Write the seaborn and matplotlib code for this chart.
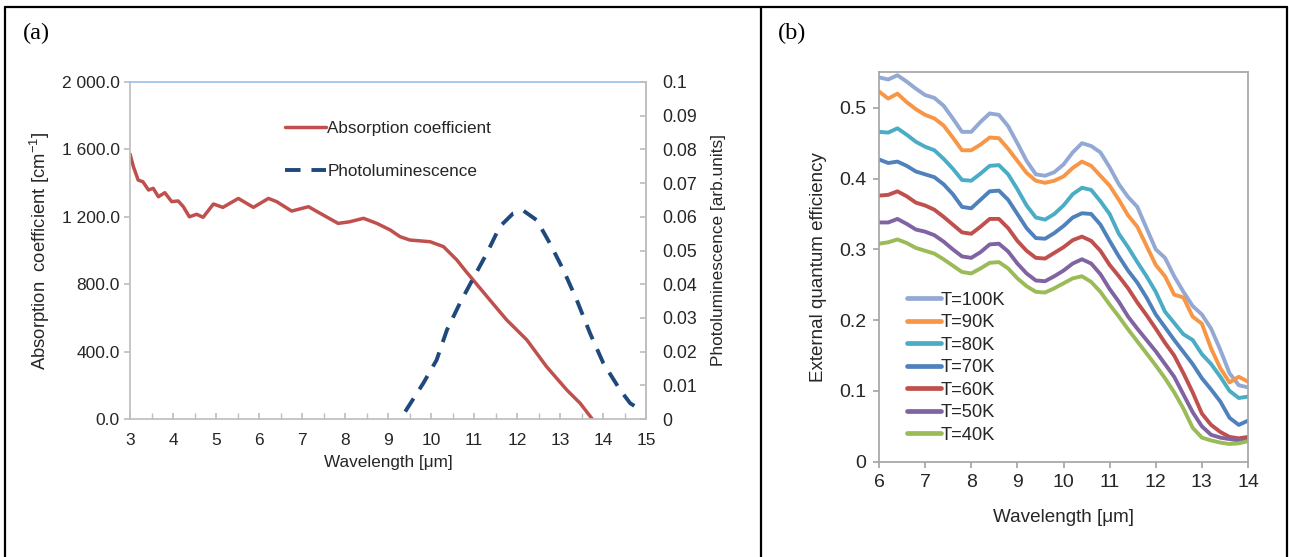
import matplotlib
matplotlib.use("Agg")
import matplotlib.pyplot as plt
from matplotlib.lines import Line2D
import numpy as np
import pandas as pd
import seaborn as sns

# ---------------- data (a) ----------------
abs_wl = [3.0, 3.08, 3.19, 3.3, 3.43, 3.54, 3.66, 3.81, 3.97, 4.12, 4.24, 4.38, 4.55, 4.7,
          4.94, 5.16, 5.52, 5.87, 6.22, 6.41, 6.76, 7.15, 7.42, 7.84, 8.1, 8.43, 8.74,
          9.05, 9.28, 9.51, 9.8, 9.98, 10.29, 10.6, 10.8, 10.98, 11.37, 11.76, 12.23,
          12.69, 13.16, 13.47, 13.75]
abs_coef = [1573, 1497, 1418, 1408, 1359, 1369, 1319, 1343, 1290, 1294, 1260, 1200, 1215, 1197,
            1276, 1256, 1309, 1256, 1309, 1290, 1234, 1260, 1221, 1161, 1170, 1191, 1161,
            1122, 1082, 1062, 1056, 1052, 1023, 944, 880, 825, 706, 588, 469,
            310, 172, 93, 0]

pl_wl = [9.40, 9.82, 10.13, 10.37, 10.67, 10.98, 11.30, 11.60, 11.91, 12.15, 12.46, 12.77,
         13.08, 13.39, 13.70, 14.01, 14.40, 14.63, 14.90]
pl_val = [0.0022, 0.0106, 0.0175, 0.0264, 0.0343, 0.0417, 0.0492, 0.0571, 0.0610, 0.0618,
          0.0590, 0.0520, 0.0442, 0.0353, 0.0254, 0.0165, 0.0086, 0.0047, 0.0025]

abs_yticks = [0, 400, 800, 1200, 1600, 2000]
abs_yticklabels = ["0.0", "400.0", "800.0", "1 200.0", "1 600.0", "2 000.0"]
pl_yticks = [0, 0.01, 0.02, 0.03, 0.04, 0.05, 0.06, 0.07, 0.08, 0.09, 0.1]
pl_yticklabels = ["0", "0.01", "0.02", "0.03", "0.04", "0.05", "0.06", "0.07", "0.08", "0.09", "0.1"]

# ---------------- data (b) ----------------
eqe_wl = [6.0, 6.2, 6.4, 6.6, 6.8, 7.0, 7.2, 7.4, 7.6, 7.8, 8.0, 8.2, 8.4, 8.6, 8.8, 9.0,
          9.2, 9.4, 9.6, 9.8, 10.0, 10.2, 10.4, 10.6, 10.8, 11.0, 11.2, 11.4, 11.6, 11.8,
          12.0, 12.2, 12.4, 12.6, 12.8, 13.0, 13.2, 13.4, 13.6, 13.8, 14.0]
eqe_100K = [0.543, 0.540, 0.546, 0.537, 0.527, 0.518, 0.514, 0.503, 0.485, 0.466, 0.466, 0.480,
            0.492, 0.490, 0.474, 0.450, 0.425, 0.406, 0.404, 0.409, 0.420, 0.437, 0.450, 0.446,
            0.437, 0.416, 0.392, 0.374, 0.360, 0.330, 0.300, 0.288, 0.262, 0.240, 0.220, 0.208,
            0.188, 0.158, 0.125, 0.108, 0.105]
eqe_90K = [0.523, 0.513, 0.520, 0.508, 0.498, 0.490, 0.485, 0.475, 0.458, 0.440, 0.440, 0.448,
           0.458, 0.457, 0.442, 0.425, 0.408, 0.397, 0.394, 0.397, 0.403, 0.415, 0.424, 0.418,
           0.404, 0.390, 0.370, 0.348, 0.332, 0.305, 0.278, 0.262, 0.236, 0.232, 0.205, 0.195,
           0.160, 0.132, 0.112, 0.120, 0.113]
eqe_80K = [0.466, 0.465, 0.471, 0.462, 0.452, 0.445, 0.440, 0.428, 0.414, 0.398, 0.397, 0.407,
           0.418, 0.419, 0.406, 0.385, 0.362, 0.345, 0.342, 0.350, 0.362, 0.378, 0.387, 0.384,
           0.368, 0.350, 0.322, 0.303, 0.282, 0.262, 0.240, 0.212, 0.196, 0.180, 0.172, 0.152,
           0.138, 0.120, 0.100, 0.090, 0.092]
eqe_70K = [0.427, 0.422, 0.424, 0.418, 0.410, 0.406, 0.402, 0.392, 0.378, 0.360, 0.358, 0.370,
           0.382, 0.383, 0.370, 0.350, 0.330, 0.316, 0.315, 0.323, 0.333, 0.345, 0.351, 0.350,
           0.335, 0.312, 0.290, 0.270, 0.253, 0.232, 0.208, 0.190, 0.172, 0.155, 0.138, 0.118,
           0.102, 0.085, 0.062, 0.052, 0.058]
eqe_60K = [0.376, 0.377, 0.382, 0.375, 0.366, 0.362, 0.356, 0.346, 0.335, 0.324, 0.322, 0.332,
           0.343, 0.343, 0.330, 0.312, 0.298, 0.288, 0.287, 0.295, 0.303, 0.313, 0.318, 0.312,
           0.298, 0.278, 0.262, 0.245, 0.225, 0.207, 0.188, 0.168, 0.150, 0.125, 0.098, 0.068,
           0.052, 0.042, 0.035, 0.033, 0.035]
eqe_50K = [0.338, 0.338, 0.343, 0.336, 0.328, 0.325, 0.320, 0.311, 0.300, 0.290, 0.288, 0.296,
           0.307, 0.308, 0.297, 0.280, 0.266, 0.256, 0.255, 0.262, 0.270, 0.280, 0.286, 0.280,
           0.265, 0.244, 0.226, 0.205, 0.188, 0.172, 0.156, 0.138, 0.120, 0.095, 0.070, 0.050,
           0.038, 0.034, 0.032, 0.030, 0.030]
eqe_40K = [0.308, 0.310, 0.314, 0.309, 0.302, 0.298, 0.294, 0.286, 0.277, 0.268, 0.266, 0.273,
           0.281, 0.282, 0.273, 0.259, 0.248, 0.240, 0.239, 0.245, 0.252, 0.259, 0.262, 0.254,
           0.240, 0.222, 0.205, 0.187, 0.170, 0.153, 0.136, 0.118, 0.098, 0.075, 0.048, 0.034,
           0.030, 0.027, 0.025, 0.026, 0.029]
temp_labels = ["T=100K", "T=90K", "T=80K", "T=70K", "T=60K", "T=50K", "T=40K"]
temp_colors = ["#93A9D3", "#F79646", "#4BACC6", "#4F81BD", "#C0504D", "#8064A2", "#9BBB59"]

# ---------------- style ----------------
sns.set_theme(style="white")
plt.rcParams["font.family"] = ["Liberation Sans", "DejaVu Sans"]
plt.rcParams["mathtext.fontset"] = "custom"
plt.rcParams["mathtext.rm"] = "Liberation Sans"
TXT = "#262626"
SP = "#BFBFBF"

fig = plt.figure(figsize=(12.89, 5.57), dpi=100)
fig.patch.set_facecolor("white")

# table borders
for (x0, y0, x1, y1) in [(5 / 1289, 1 - 7 / 557, 1287 / 1289, 1 - 7 / 557),
                         (5 / 1289, 1 - 7 / 557, 5 / 1289, 0),
                         (761 / 1289, 1 - 7 / 557, 761 / 1289, 0),
                         (1287 / 1289, 1 - 7 / 557, 1287 / 1289, 0)]:
    fig.add_artist(Line2D([x0, x1], [y0, y1], transform=fig.transFigure, color="black", lw=1.6))

fig.text(23 / 1289, 1 - 33 / 557, "(a)", family="Liberation Serif", fontsize=17.5, va="center", color="black")
fig.text(778 / 1289, 1 - 33 / 557, "(b)", family="Liberation Serif", fontsize=17.5, va="center", color="black")

# ---------------- panel (a) ----------------
axa = fig.add_axes([130 / 1289, (557 - 419) / 557, 516 / 1289, 337 / 557])
df_abs = pd.DataFrame({"wl": abs_wl, "val": abs_coef})
sns.lineplot(data=df_abs, x="wl", y="val", ax=axa, color="#C0504D", lw=2.5, legend=False)
axa.set_xlim(3, 15)
axa.set_ylim(0, 2000)
axa.set_xticks(range(3, 16))
axa.set_xticks(np.arange(3.5, 15, 1.0), minor=True)
axa.set_yticks(abs_yticks)
axa.set_yticklabels(abs_yticklabels)
axa.set_xlabel("Wavelength [\u03bcm]", fontsize=12.3, color=TXT, labelpad=5)
axa.set_ylabel("Absorption  coefficient [cm$^{\\mathregular{-1}}$]", fontsize=13.3, color=TXT, labelpad=7)
for s in ["left", "bottom", "right"]:
    axa.spines[s].set_color(SP)
axa.spines["top"].set_color("#9DC3E6")
axa.tick_params(axis="x", which="both", direction="in", length=4, color=SP, labelsize=12.5,
                labelcolor=TXT, bottom=True, pad=10)
axa.tick_params(axis="y", direction="out", length=4, color=SP, labelsize=12.5, labelcolor=TXT, left=True)

axb = axa.twinx()
df_pl = pd.DataFrame({"wl": pl_wl, "val": pl_val})
sns.lineplot(data=df_pl, x="wl", y="val", ax=axb, color="#1F497D", lw=2.8, legend=False,
             linestyle=(0, (4.0, 2.8)))
axb.set_ylim(0, 0.1)
axb.set_yticks(pl_yticks)
axb.set_yticklabels(pl_yticklabels)
axb.set_ylabel("Photoluminescence [arb.units]", fontsize=12.4, color=TXT, labelpad=10)
for s in ["left", "bottom", "top"]:
    axb.spines[s].set_visible(False)
axb.spines["right"].set_color(SP)
axb.tick_params(axis="y", direction="in", length=4, color=SP, labelsize=12.8, labelcolor=TXT, right=True, pad=12)
axa.set_xlim(3, 15)

handles = [Line2D([], [], color="#C0504D", lw=2.5),
           Line2D([], [], color="#1F497D", lw=2.8, linestyle=(0, (4.0, 2.8)))]
fig.legend(handles, ["Absorption coefficient", "Photoluminescence"], loc="upper left",
           bbox_to_anchor=(270 / 1289, 1 - 106 / 557), frameon=False, fontsize=12.3,
           handlelength=2.35, handletextpad=0.1, labelspacing=1.6, labelcolor=TXT)

# ---------------- panel (b) ----------------
axc = fig.add_axes([879 / 1289, (557 - 461.7) / 557, 369 / 1289, 390 / 557])
series = [eqe_100K, eqe_90K, eqe_80K, eqe_70K, eqe_60K, eqe_50K, eqe_40K]
rows = []
for lab, vals in zip(temp_labels, series):
    for w, v in zip(eqe_wl, vals):
        rows.append((w, v, lab))
df_eqe = pd.DataFrame(rows, columns=["wl", "eqe", "T"])
sns.lineplot(data=df_eqe, x="wl", y="eqe", hue="T", hue_order=temp_labels,
             palette=dict(zip(temp_labels, temp_colors)), ax=axc, lw=2.8, legend=False)
axc.set_xlim(6, 14)
axc.set_ylim(0, 0.551)
axc.set_xticks(range(6, 15))
axc.set_yticks([0, 0.1, 0.2, 0.3, 0.4, 0.5])
axc.set_yticklabels(["0", "0.1", "0.2", "0.3", "0.4", "0.5"])
axc.set_xlabel("Wavelength [\u03bcm]", fontsize=13.6, color=TXT, labelpad=13)
axc.set_ylabel("External quantum efficiency", fontsize=13.5, color=TXT, labelpad=9)
for s in ["left", "bottom", "right", "top"]:
    axc.spines[s].set_color("#A6A6A6")
axc.tick_params(axis="both", direction="out", length=4, color="#A6A6A6", labelsize=14,
                labelcolor=TXT, bottom=True, left=True, pad=5)

h2 = [Line2D([], [], color=c, lw=3.4) for c in temp_colors]
axc.legend(h2, temp_labels, loc="upper left", bbox_to_anchor=(0.055, 0.455), frameon=False,
           fontsize=13.2, handlelength=1.85, handletextpad=0.0, labelspacing=0.3, labelcolor=TXT,
           borderaxespad=0)

fig.savefig("out.png", dpi=100)
